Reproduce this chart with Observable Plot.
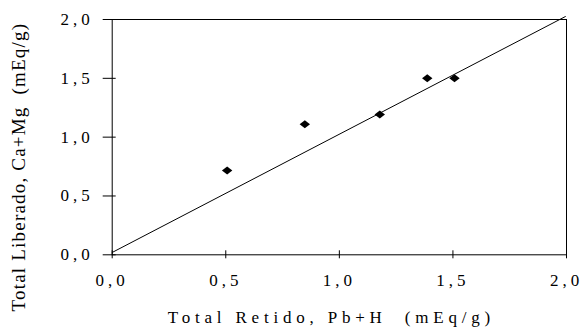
<!DOCTYPE html>
<html><head><meta charset="utf-8">
<script src="https://cdn.jsdelivr.net/npm/d3@7"></script>
<script src="https://cdn.jsdelivr.net/npm/@observablehq/plot@0.6"></script>
<style>
html,body{margin:0;padding:0;background:#fff;}
</style></head><body><div id="chart"></div>
<script>
// Data
const retido = [0.506, 0.848, 1.178, 1.387, 1.507];   // Total Retido, Pb+H (mEq/g)
const liberado = [0.717, 1.110, 1.193, 1.501, 1.501]; // Total Liberado, Ca+Mg (mEq/g)
const refX = [0, 1.995];   // 1:1 reference line
const refY = [0.02, 2.025];
const xTicks = [0, 0.5, 1.0, 1.5, 2.0];
const yTicks = [0, 0.5, 1.0, 1.5, 2.0];
const xTitle = "Total Retido, Pb+H  (mEq/g)";
const yTitle = "Total Liberado, Ca+Mg  (mEq/g)";

const points = retido.map((x, i) => ({x, y: liberado[i]}));
const refLine = refX.map((x, i) => ({x, y: refY[i]}));
const fmt = d => d.toFixed(1).replace(".", ",");
const font = "Liberation Serif, Times New Roman, serif";

const wideDiamond = {
  draw(ctx, size) {
    const r = Math.sqrt(size / Math.PI);
    const w = r * 1.3, h = r;
    ctx.moveTo(-w, 0); ctx.lineTo(0, -h); ctx.lineTo(w, 0); ctx.lineTo(0, h); ctx.closePath();
  }
};

const chart = Plot.plot({
  width: 584,
  height: 330,
  marginLeft: 111.7,
  marginRight: 18,
  marginTop: 19,
  marginBottom: 75.7,
  style: {background: "#fff", color: "#000", fontFamily: font, overflow: "visible"},
  x: {domain: [0, 2], axis: null},
  y: {domain: [0, 2], axis: null},
  marks: [
    Plot.frame({stroke: "#000", strokeWidth: 1}),
    Plot.ruleY(yTicks, {y: d => d, x1: 0, x2: 0, insetLeft: -9, insetRight: -4, stroke: "#000"}),
    Plot.ruleX(xTicks, {x: d => d, y1: 0, y2: 0, insetTop: -4, insetBottom: -4, stroke: "#000"}),
    Plot.text(xTicks, {x: d => d, frameAnchor: "bottom", dy: 31, text: fmt, fontSize: 17, fill: "#000", fontFamily: font}),
    Plot.text(yTicks, {y: d => d, frameAnchor: "left", textAnchor: "end", dx: -18.4, text: fmt, fontSize: 17, fill: "#000", fontFamily: font}),
    Plot.line(refLine, {x: "x", y: "y", stroke: "#000", strokeWidth: 1}),
    Plot.dot(points, {x: "x", y: "y", symbol: wideDiamond, r: 4, fill: "#000", stroke: "none"}),
    Plot.text([xTitle], {frameAnchor: "bottom", textAnchor: "middle", dx: -8, dy: 68, text: d => d, fontSize: 17, fill: "#000", fontFamily: font}),
    Plot.text([yTitle], {frameAnchor: "left", textAnchor: "middle", rotate: -90, dx: -93, dy: 30, text: d => d, fontSize: 19, fill: "#000", fontFamily: font})
  ]
});

chart.querySelectorAll("text").forEach(t => {
  const s = t.textContent;
  if (/^\d,\d$/.test(s)) t.style.letterSpacing = "4px";
  else if (s === xTitle) t.style.letterSpacing = "4.8px";
  else if (s === yTitle) t.style.letterSpacing = "1.2px";
});
document.getElementById("chart").append(chart);
</script></body></html>
